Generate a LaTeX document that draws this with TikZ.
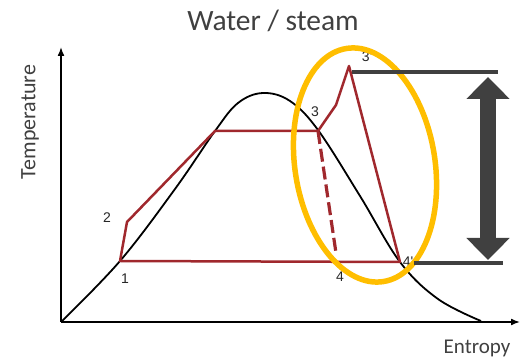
\documentclass[tikz,border=0pt]{standalone}
\usepackage{fontspec}
\setmainfont{Carlito}
\newfontfamily\numfont{Liberation Sans}
\usepackage{xcolor}
\usetikzlibrary{arrows.meta,positioning,calc}
\definecolor{cycle}{RGB}{160,40,45}
\definecolor{ring}{RGB}{255,190,0}
\definecolor{band}{RGB}{64,64,64}

\begin{document}
\begin{tikzpicture}[x=1pt,y=1pt,
  axis/.style={line width=1.6pt,-{Latex[length=9pt,width=7pt]}},
  cyc/.style={cycle,line width=2.5pt,line join=round},
  pt/.style={font=\numfont\fontsize{14}{14}\selectfont,text=black!85}]
\useasboundingbox (0,0) rectangle (522,361);
% axes
\coordinate (O) at (61,39);
\draw[axis] (O) -- (520,39) coordinate (xend);
\draw[axis] (O) -- (61,314) coordinate (yend);
% saturation dome
\draw[line width=1.8pt,smooth,tension=0.6] plot coordinates {(61,39) (120,100) (175,172)
  (215,230) (238,258) (263,268) (290,260) (318,231) (360,165) (400,99) (438,62) (481,40)};
% cycle points
\coordinate (p1) at (120,100);
\coordinate (p2) at (127,139);
\coordinate (pa) at (215,230);
\coordinate (p3) at (318,230);
\coordinate (pb) at (336,256);
\coordinate (p3s) at (349,295);
\coordinate (p4s) at (400,99);
\coordinate (p4) at (336,108);
\draw[cyc] (p1) -- (p2) -- (pa) -- (p3) -- (pb) -- (p3s) -- (p4s) -- cycle;
\draw[cyc,line width=3.2pt,dash pattern=on 13pt off 5pt] (p3) -- (p4);
\node[pt] (l1) at (125,82) {1};
\node[pt] (l2) at (107,143) {2};
\node[pt] (l3) at (315,249) {3};
\node[pt] (l3s) at (367,304) {3'};
\node[pt] (l4) at (340,84) {4};
\node[pt] (l4s) at (408,99) {4'};
% highlight ring
\draw[ring,line width=5.5pt] (365,196) ellipse[x radius=70,y radius=118,rotate=9];
% temperature range
\coordinate (ttop) at (352,289);
\coordinate (tbot) at (414,98);
\draw[band,line width=3.5pt] (ttop) -- (498,289);
\draw[band,line width=3.5pt] (tbot) -- (503,98);
\draw[band,line width=16pt,{Triangle[width=42pt,length=22pt]}-{Triangle[width=42pt,length=22pt]}]
  (488,284) -- (488,101);
% labels
\node[text=band,font=\fontsize{29.5}{29.5}\selectfont] (title) at (273,340) {Water / steam};
\node[text=band,font=\fontsize{22}{22}\selectfont,rotate=90] (ylab) at (30,239) {Temperature};
\node[text=band,font=\fontsize{21}{21}\selectfont] (xlab) at (477,13) {Entropy};
\end{tikzpicture}
\end{document}
